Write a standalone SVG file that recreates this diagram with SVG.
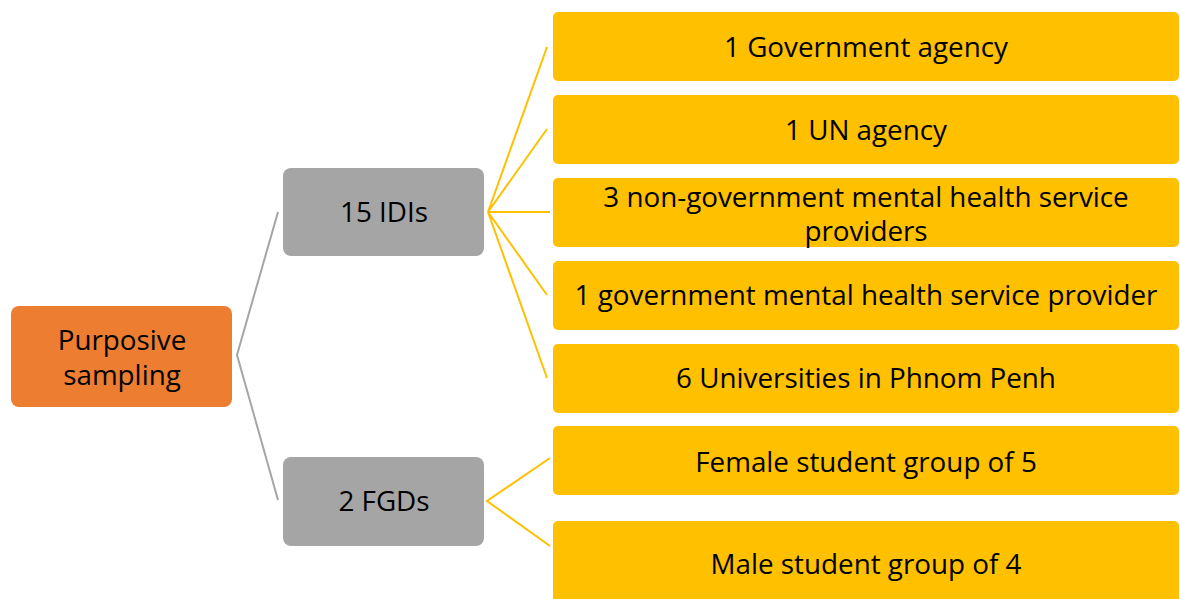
<svg xmlns="http://www.w3.org/2000/svg" width="1180" height="599" viewBox="0 0 1180 599">
  <style>
    .root { fill: #ED7D31; }
    .mid { fill: #A5A5A5; }
    .leaf { fill: #FFC000; }
    text { font-family: "Open Sans", "Liberation Sans", sans-serif; font-size: 27.8px; fill: #000; text-anchor: middle; }
    .gray { stroke: #A5A5A5; stroke-width: 2; fill: none; }
    .gold { stroke: #FFC000; stroke-width: 2; fill: none; }
  </style>
  <rect width="1180" height="599" fill="#fff"/>

  <g id="connectors">
    <path class="gray" d="M278 212 L237 355 L278 500"/>
    <path class="gold" d="M547 47 L488 212 M547 129 L488 212 M550 212 L488 212 M547 295 L488 212 M547 378 L488 212"/>
    <path class="gold" d="M550 458 L487 501 L550 546"/>
  </g>

  <g id="purposive-sampling">
    <rect class="root" x="11" y="306" width="221" height="101" rx="8"/>
    <text x="122" y="350">Purposive</text>
    <text x="122" y="385">sampling</text>
  </g>

  <g id="idis">
    <rect class="mid" x="283" y="168" width="201" height="88" rx="8"/>
    <text x="384" y="222">15 IDIs</text>
  </g>

  <g id="fgds">
    <rect class="mid" x="283" y="457" width="201" height="89" rx="8"/>
    <text x="384" y="511">2 FGDs</text>
  </g>

  <g id="government-agency">
    <rect class="leaf" x="553" y="12" width="626" height="69" rx="5"/>
    <text x="866" y="57">1 Government agency</text>
  </g>

  <g id="un-agency">
    <rect class="leaf" x="553" y="95" width="626" height="69" rx="5"/>
    <text x="866" y="140">1 UN agency</text>
  </g>

  <g id="ngo-providers">
    <rect class="leaf" x="553" y="178" width="626" height="69" rx="5"/>
    <text x="866" y="207">3 non-government mental health service</text>
    <text x="866" y="241">providers</text>
  </g>

  <g id="gov-provider">
    <rect class="leaf" x="553" y="261" width="626" height="69" rx="5"/>
    <text x="866" y="305">1 government mental health service provider</text>
  </g>

  <g id="universities">
    <rect class="leaf" x="553" y="344" width="626" height="69" rx="5"/>
    <text x="866" y="388">6 Universities in Phnom Penh</text>
  </g>

  <g id="female-group">
    <rect class="leaf" x="553" y="426" width="626" height="69" rx="5"/>
    <text x="866" y="472">Female student group of 5</text>
  </g>

  <g id="male-group">
    <rect class="leaf" x="553" y="521" width="626" height="90" rx="5"/>
    <text x="866" y="574">Male student group of 4</text>
  </g>
</svg>
